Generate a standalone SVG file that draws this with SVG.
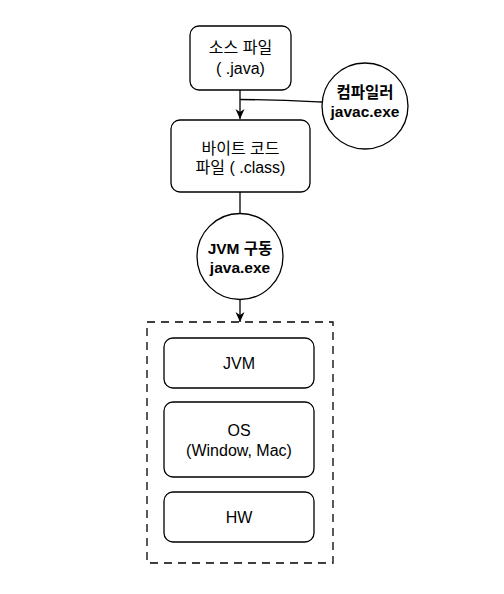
<svg xmlns="http://www.w3.org/2000/svg" width="504" height="594" viewBox="0 0 504 594">
<style>
.box{fill:#fff;stroke:#000;stroke-width:1.3}
.t{font-family:"Liberation Sans","Noto Sans CJK KR",Arial,sans-serif;font-size:16px;fill:#000;text-anchor:middle}
.b{font-weight:bold;font-size:15.5px}
.c{fill:none;stroke:#000;stroke-width:1.3}
</style>
<defs>
<marker id="arr" viewBox="0 0 10 10" refX="10" refY="5" markerWidth="10" markerHeight="10" markerUnits="userSpaceOnUse" orient="auto">
<path d="M0,0.5 L10,5 L0,9.5 L3,5 Z" fill="#000"/>
</marker>
</defs>
<rect width="504" height="594" fill="#fff"/>
<g id="connectors">
<path class="c" d="M240,90 L240,119" marker-end="url(#arr)"/>
<path class="c" d="M322,102 C300,101 280,100 240,99.5"/>
<path class="c" d="M240,192 L240,213"/>
<path class="c" d="M240,300 L240,322" marker-end="url(#arr)"/>
</g>
<g id="source">
<rect class="box" x="190" y="26" width="101" height="64" rx="9"/>
<text class="t" x="240.5" y="52.5">소스 파일</text>
<text class="t" x="240.5" y="73.5">( .java)</text>
</g>
<g id="compiler">
<circle class="box" cx="365" cy="106" r="43"/>
<text class="t b" x="365" y="97.5">컴파일러</text>
<text class="t b" x="365" y="116.5">javac.exe</text>
</g>
<g id="bytecode">
<rect class="box" x="171" y="120" width="139" height="72" rx="9"/>
<text class="t" x="240.5" y="153.5">바이트 코드</text>
<text class="t" x="240.5" y="172.5">파일 ( .class)</text>
</g>
<g id="jvmrun">
<circle class="box" cx="240" cy="256.5" r="43"/>
<text class="t b" x="240" y="253.5">JVM 구동</text>
<text class="t b" x="240" y="272.5">java.exe</text>
</g>
<g id="platform">
<rect x="147" y="322" width="186" height="241" fill="none" stroke="#000" stroke-width="1.3" stroke-dasharray="8 6"/>
</g>
<g id="jvm">
<rect class="box" x="164" y="338" width="150" height="50" rx="9"/>
<text class="t" x="239" y="368.5">JVM</text>
</g>
<g id="os">
<rect class="box" x="164" y="402" width="150" height="75" rx="9"/>
<text class="t" x="239" y="435.5">OS</text>
<text class="t" x="239" y="455.5">(Window, Mac)</text>
</g>
<g id="hw">
<rect class="box" x="164" y="492" width="150" height="50" rx="9"/>
<text class="t" x="239" y="522.5">HW</text>
</g>
</svg>
